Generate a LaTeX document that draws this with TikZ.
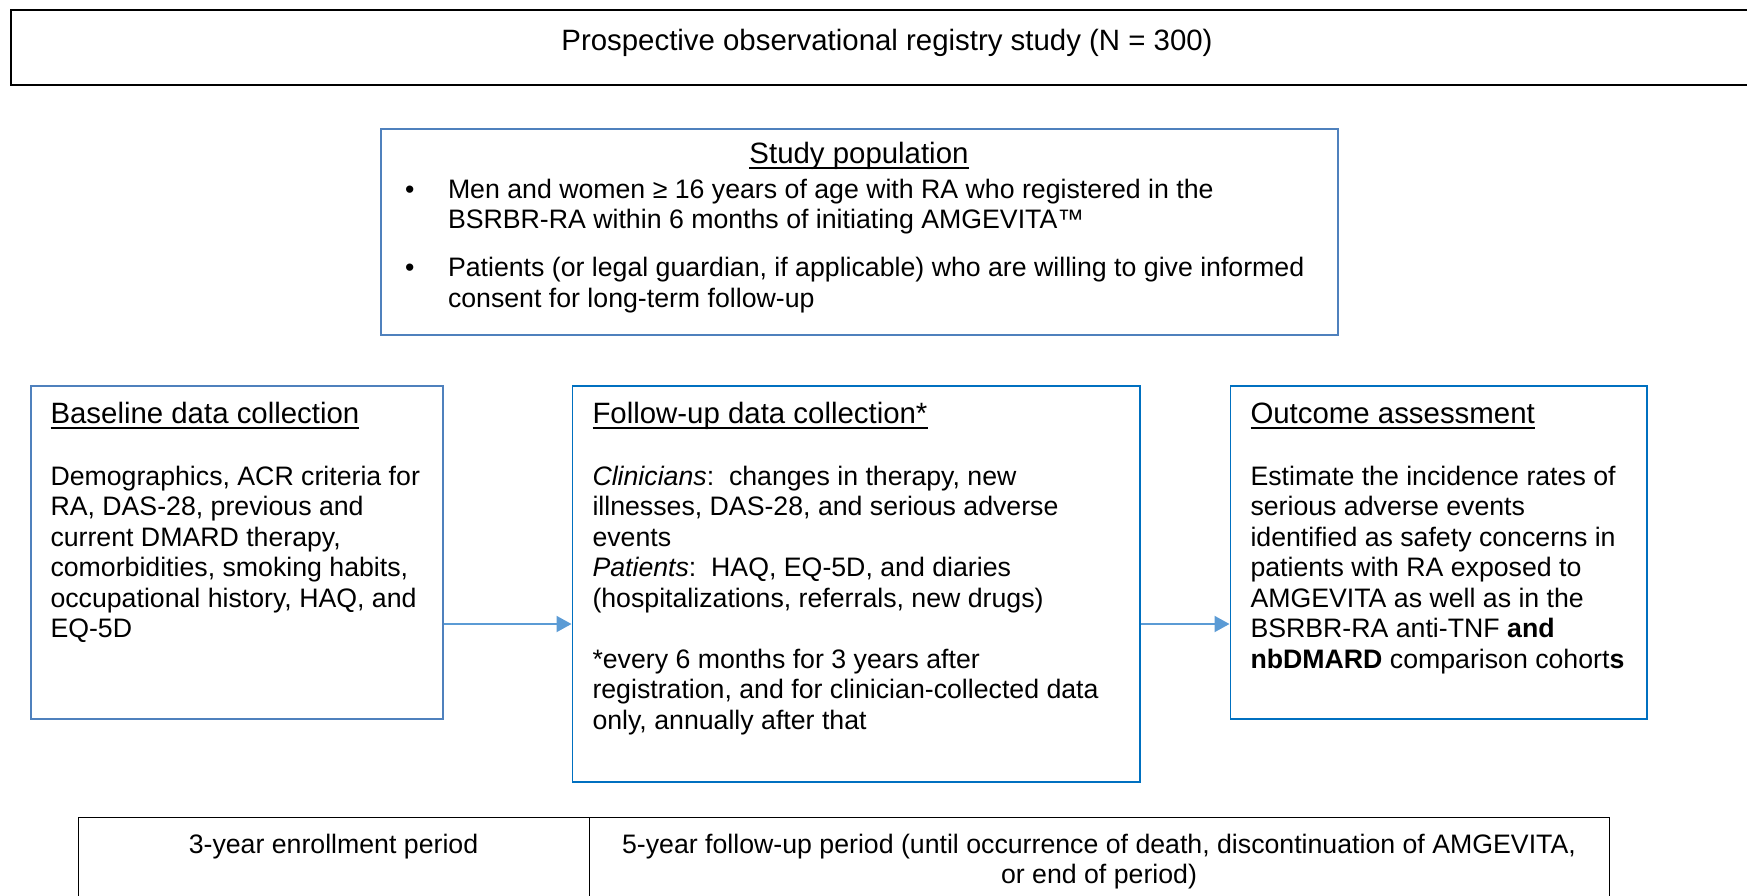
\documentclass[tikz,border=0pt]{standalone}
\usepackage{fontspec}
\setmainfont{Liberation Sans}
\usetikzlibrary{arrows.meta}
\definecolor{lblue}{RGB}{79,129,189}
\definecolor{dblue}{RGB}{0,112,192}
\definecolor{arrblue}{RGB}{91,155,213}
\newcommand{\Lines}[1]{\vtop{\halign{##\hfil\cr#1\cr}}}
\newcommand{\CLines}[1]{\vtop{\halign{\hfil##\hfil\cr#1\cr}}}
\begin{document}
\begin{tikzpicture}[x=0.5pt,y=-0.5pt,
  txt/.style={inner sep=0pt, outer sep=0pt, font=\fontsize{13.35}{15.25}\selectfont, anchor=base west},
  ctxt/.style={txt, anchor=base},
  ttl/.style={txt, font=\fontsize{14.7}{17}\selectfont},
  cttl/.style={ttl, anchor=base},
  box/.style={draw, rectangle, inner sep=0pt, anchor=north west},
  lbox/.style={box, draw=lblue, line width=0.75pt},
  dbox/.style={box, draw=dblue, line width=0.75pt},
  kbox/.style={box, draw=black, line width=1pt},
  tbox/.style={box, draw=black, line width=0.6pt},
  uline/.style={line width=0.8pt},
  conn/.style={draw=arrblue, line width=1pt, -{Triangle[length=7.5pt,width=8pt]}}]
\useasboundingbox (0,0) rectangle (1747,895);
\clip (0,0) rectangle (1747,895);

% top box
\node[kbox, minimum width=877pt, minimum height=37.5pt] (top) at (10,9) {};
\node[cttl] (toptxt) at (887,50) {Prospective observational registry study (N = 300)};

% study population
\node[lbox, minimum width=478.5pt, minimum height=103pt] (pop) at (380,128) {};
\node[cttl] (poptitle) at (859,163) {Study population};
\draw[uline] ([yshift=-2.6pt]poptitle.base west) -- ([yshift=-2.6pt]poptitle.base east);
\node[txt] (b1) at (405,198) {•};
\node[txt] (p1) at (448,198) {\Lines{Men and women ≥ 16 years of age with RA who registered in the\cr BSRBR-RA within 6 months of initiating AMGEVITA™}};
\node[txt] (b2) at (405,276.5) {•};
\node[txt] (p2) at (448,276.5) {\Lines{Patients (or legal guardian, if applicable) who are willing to give informed\cr consent for long-term follow-up}};

% baseline
\node[lbox, minimum width=206pt, minimum height=166.5pt] (base) at (30,385) {};
\node[ttl] (basetitle) at (50.5,423) {Baseline data collection};
\draw[uline] ([yshift=-2.6pt]basetitle.base west) -- ([yshift=-2.6pt]basetitle.base east);
\node[txt] (basebody) at (50.5,485) {\Lines{Demographics, ACR criteria for\cr RA, DAS-28, previous and\cr current DMARD therapy,\cr comorbidities, smoking habits,\cr occupational history, HAQ, and\cr EQ-5D}};

% follow-up
\node[dbox, minimum width=283.75pt, minimum height=198pt] (fu) at (571.5,385) {};
\node[ttl] (futitle) at (592.5,423) {Follow-up data collection*};
\draw[uline] ([yshift=-2.6pt]futitle.base west) -- ([yshift=-2.6pt]futitle.base east);
\node[txt] (fubody) at (592.5,485) {\Lines{\textit{Clinicians}:\ \ changes in therapy, new\cr illnesses, DAS-28, and serious adverse\cr events\cr \textit{Patients}:\ \ HAQ, EQ-5D, and diaries\cr (hospitalizations, referrals, new drugs)}};
\node[txt] (funote) at (592.5,668) {\Lines{*every 6 months for 3 years after\cr registration, and for clinician-collected data\cr only, annually after that}};

% outcome
\node[dbox, minimum width=208.25pt, minimum height=166.5pt] (out) at (1229.5,385) {};
\node[ttl] (outtitle) at (1250.5,423) {Outcome assessment};
\draw[uline] ([yshift=-2.6pt]outtitle.base west) -- ([yshift=-2.6pt]outtitle.base east);
\node[txt] (outbody) at (1250.5,485) {\Lines{Estimate the incidence rates of\cr serious adverse events\cr identified as safety concerns in\cr patients with RA exposed to\cr AMGEVITA as well as in the\cr BSRBR-RA anti-TNF \textbf{and}\cr \textbf{nbDMARD} comparison cohort\textbf{s}}};

% arrows
\coordinate (ay) at (0,624);
\draw[conn] (base.east |- ay) -- (fu.west |- ay);
\draw[conn] (fu.east |- ay) -- (out.west |- ay);

% bottom table
\node[tbox, minimum width=255.5pt, minimum height=44pt] (enr) at (78,817) {};
\node[tbox, minimum width=510pt, minimum height=44pt] (fup) at (589,817) {};
\node[ctxt] (enrtxt) at (333.5,853) {3-year enrollment period};
\node[ctxt] (fuptxt) at (1099,853) {\CLines{5-year follow-up period (until occurrence of death, discontinuation of AMGEVITA,\cr or end of period)}};
\end{tikzpicture}
\end{document}
